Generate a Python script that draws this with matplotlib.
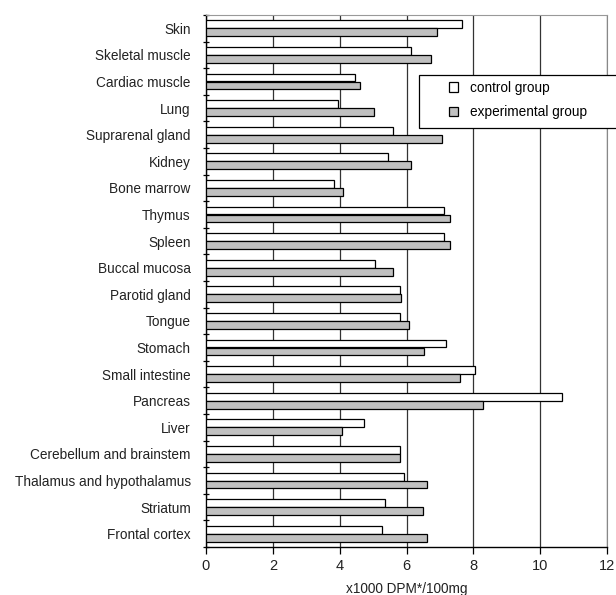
import matplotlib
matplotlib.use('Agg')
import matplotlib.pyplot as plt
from matplotlib.patches import Patch, Rectangle
import numpy as np

# tissues, top to bottom
tissues = ['Skin', 'Skeletal muscle', 'Cardiac muscle', 'Lung', 'Suprarenal gland',
           'Kidney', 'Bone marrow', 'Thymus', 'Spleen', 'Buccal mucosa',
           'Parotid gland', 'Tongue', 'Stomach', 'Small intestine', 'Pancreas',
           'Liver', 'Cerebellum and brainstem', 'Thalamus and hypothalamus',
           'Striatum', 'Frontal cortex']
control = [7.67, 6.13, 4.47, 3.96, 5.60, 5.46, 3.84, 7.13, 7.13, 5.07,
           5.81, 5.81, 7.17, 8.05, 10.64, 4.74, 5.80, 5.92, 5.36, 5.28]
experimental = [6.92, 6.74, 4.61, 5.02, 7.07, 6.13, 4.09, 7.31, 7.31, 5.60,
                5.84, 6.06, 6.53, 7.59, 8.29, 4.08, 5.80, 6.60, 6.50, 6.60]
xticks = [0, 2, 4, 6, 8, 10, 12]

plt.rcParams['font.family'] = ['Liberation Sans', 'DejaVu Sans']
plt.rcParams['font.size'] = 9.8

fig = plt.figure(figsize=(6.16, 5.95), dpi=100)
ax = fig.add_axes([206/616., 1 - 547/595., (607 - 206)/616., (547 - 15)/595.])

y = np.arange(len(tissues))
h = 0.3
ax.barh(y - h/2, control, height=h, color='white', edgecolor='black', linewidth=0.9, zorder=3)
ax.barh(y + h/2, experimental, height=h, color='#c0c0c0', edgecolor='black', linewidth=0.9, zorder=3)

ax.set_xlim(0, 12)
ax.set_ylim(len(tissues) - 0.5, -0.5)
ax.set_xticks(xticks)
ax.set_xticklabels([str(t) for t in xticks], color='#222222', fontsize=10.5)
ax.xaxis.grid(True, color='#333333', linewidth=0.9, zorder=0)
ax.set_axisbelow(True)

ax.set_yticks(y)
ax.set_yticklabels(tissues, color='#222222')
ax.set_yticks(np.arange(len(tissues) + 1) - 0.5, minor=True)
ax.tick_params(axis='y', which='major', length=0, pad=11)
ax.tick_params(axis='y', which='minor', length=5, direction='inout', width=0.9)
ax.tick_params(axis='x', length=5, width=0.9, direction='out', pad=4)

ax.spines['left'].set_linewidth(1.0)
ax.spines['bottom'].set_linewidth(1.0)
ax.spines['top'].set_color('#999999')
ax.spines['right'].set_color('#888888')

ax.set_xlabel('x1000 DPM*/100mg', color='#222222', labelpad=6)

# legend box runs past the right edge, as in the source figure
fig.patches.append(Rectangle((419/616., 1 - 128/595.), 0.4, 53/595., transform=fig.transFigure,
                             facecolor='white', edgecolor='black', linewidth=0.9, zorder=4))
handles = [Patch(facecolor='white', edgecolor='black', linewidth=0.9),
           Patch(facecolor='#c0c0c0', edgecolor='black', linewidth=0.9)]
fig.legend(handles, ['control group', 'experimental group'], loc='center left',
           bbox_to_anchor=(449/616., 1 - 100/595.), bbox_transform=fig.transFigure,
           frameon=False, borderpad=0, borderaxespad=0, handlelength=0.68, handleheight=0.68,
           handletextpad=0.85, labelspacing=0.75, fontsize=9.8)

plt.savefig('out.png', dpi=100)
